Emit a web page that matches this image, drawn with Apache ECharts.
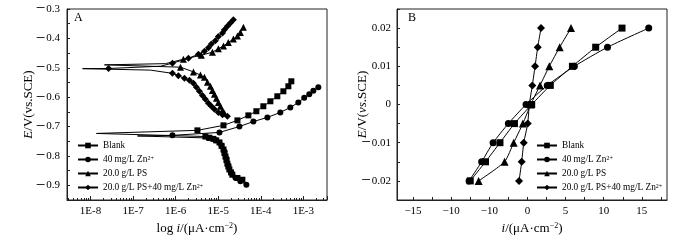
<!DOCTYPE html>
<html><head><meta charset="utf-8">
<script src="https://cdn.jsdelivr.net/npm/echarts@6/dist/echarts.min.js"></script>
<style>html,body{margin:0;padding:0;background:#fff}#c{width:700px;height:240px}</style>
</head><body><div id="c"></div><script>
// ---------- data ----------
const seriesNames = ['Blank', '40 mg/L Zn²⁺', '20.0 g/L PS', '20.0 g/L PS+40 mg/L Zn²⁺'];
const seriesSymbols = ['rect', 'circle', 'triangle', 'diamond'];

// Panel A : Tafel curves, current density i (log) and potential E
const blankI = [3.70e-5, 2.83e-5, 2.15e-5, 2.0e-5, 1.83e-5, 1.73e-5, 1.64e-5, 1.56e-5, 1.48e-5, 1.40e-5, 1.33e-5, 1.2e-5, 1.07e-5, 9.0e-6, 7.7e-6, 6.2e-6, 5.0e-6, 1.38e-8, 3.25e-6, 1.33e-5, 2.83e-5, 5.12e-5, 7.88e-5, 1.15e-4, 1.68e-4, 2.45e-4, 3.40e-4, 4.45e-4, 5.23e-4];
const blankE = [-0.881, -0.875, -0.864, -0.856, -0.846, -0.836, -0.826, -0.814, -0.802, -0.790, -0.778, -0.766, -0.754, -0.747, -0.742, -0.738, -0.734, -0.7235, -0.713, -0.696, -0.679, -0.662, -0.648, -0.631, -0.614, -0.597, -0.580, -0.563, -0.546];
const blankUnmarked = [17];

const znI = [4.59e-5, 3.32e-5, 2.54e-5, 2.04e-5, 1.73e-5, 1.56e-5, 1.40e-5, 1.19e-5, 8.6e-6, 5.9e-6, 1.27e-7, 8.4e-7, 1.07e-5, 3.15e-5, 6.7e-5, 1.43e-4, 2.88e-4, 4.95e-4, 7.63e-4, 1.05e-3, 1.38e-3, 1.72e-3, 2.25e-3];
const znE = [-0.898, -0.886, -0.874, -0.857, -0.833, -0.809, -0.785, -0.764, -0.747, -0.739, -0.732, -0.730, -0.720, -0.700, -0.683, -0.669, -0.652, -0.635, -0.618, -0.602, -0.590, -0.578, -0.566];
const znUnmarked = [10];

const psI = [1.40e-5, 1.26e-5, 1.13e-5, 1.01e-5, 9.08e-6, 8.15e-6, 7.31e-6, 6.56e-6, 5.58e-6, 4.75e-6, 3.82e-6, 2.62e-6, 1.30e-6, 2.13e-8, 5.77e-7, 1.52e-6, 4.03e-6, 7.31e-6, 1.01e-5, 1.33e-5, 1.73e-5, 2.27e-5, 2.83e-5, 3.32e-5, 3.91e-5];
const psE = [-0.655, -0.645, -0.631, -0.618, -0.604, -0.590, -0.577, -0.563, -0.549, -0.532, -0.525, -0.514, -0.498, -0.490, -0.486, -0.471, -0.457, -0.447, -0.435, -0.426, -0.414, -0.4025, -0.392, -0.380, -0.3625];
const psUnmarked = [13, 14];

const psznI = [1.64e-5, 1.26e-5, 1.01e-5, 8.15e-6, 6.92e-6, 5.89e-6, 5.0e-6, 4.26e-6, 3.62e-6, 3.08e-6, 2.62e-6, 2.11e-6, 1.61e-6, 1.16e-6, 8.4e-7, 2.56e-7, 6.5e-9, 2.65e-8, 4.4e-7, 8.4e-7, 2.0e-6, 3.43e-6, 4.75e-6, 5.89e-6, 6.92e-6, 8.59e-6, 1.01e-5, 1.26e-5, 1.40e-5, 1.64e-5, 1.93e-5, 2.27e-5];
const psznE = [-0.665, -0.660, -0.652, -0.6415, -0.631, -0.621, -0.607, -0.594, -0.580, -0.566, -0.553, -0.5425, -0.536, -0.527, -0.519, -0.508, -0.503, -0.5025, -0.4947, -0.4844, -0.468, -0.4537, -0.4434, -0.4315, -0.4195, -0.4083, -0.3932, -0.382, -0.3707, -0.3591, -0.3478, -0.3365];
const psznUnmarked = [15, 16, 18];

// Panel B : linear polarization, potential E and current density i
const bE = [-0.02, -0.015, -0.01, -0.005, 0, 0.005, 0.01, 0.015, 0.02];
const blankB = [-7.5, -5.5, -3.6, -1.7, 0.56, 3.0, 5.9, 8.95, 12.4];
const znB = [-7.65, -6.0, -4.5, -2.5, -0.18, 2.6, 6.15, 10.5, 15.9];
const psB = [-6.4, -3.0, -1.8, -0.6, 0.43, 1.65, 2.87, 4.23, 5.71];
const psznB = [-1.1, -0.75, -0.48, 0.04, 0.25, 0.64, 1.0, 1.35, 1.78];

// tick labels
const aXMajor = [1e-8, 1e-7, 1e-6, 1e-5, 1e-4, 1e-3];
const aXLabels = ['1E-8', '1E-7', '1E-6', '1E-5', '1E-4', '1E-3'];
const bXLabelVals = [-15, -10, -5, 0, 5, 10, 15];
const bXLabels = ['\u221215', '\u221210', '\u221210', '0', '5', '10', '15'];
const bXTickVals = [-15, -12.5, -10, -7.5, -5, -2.5, 0, 2.5, 5, 7.5, 10, 12.5, 15, 17.5];

// ---------- chart ----------
const FONT = '"Liberation Serif","DejaVu Serif",serif';
const MINUS = '\u2212';
const fmtSigned = (v, d) => (Math.abs(v) < 1e-12 ? '0' : (v < 0 ? '{m|' + MINUS + '}' : '') + Math.abs(v).toFixed(d));

const A_MIN = 2.8e-9, A_MAX = 3.6e-3;
// minor log ticks drawn on an overlay axis that works in decades
const aXMinorLog = [];
for (let k = -9; k <= -3; k++) for (let m = 2; m <= 9; m++) aXMinorLog.push(k + Math.log10(m));

const richAxisName = {
  i: {fontStyle: 'italic', fontFamily: FONT, fontSize: 13, color: '#000'},
  n: {fontFamily: FONT, fontSize: 13, color: '#000'},
  s: {fontFamily: FONT, fontSize: 8, color: '#000', verticalAlign: 'top', padding: [0, 0, 5, 0]}
};
const richTick = {m: {fontFamily: FONT, fontSize: 17, color: '#000', padding: [0, 1, 0, 0]}};

function tafelData(I, E, unmarked) {
  return I.map((v, k) => unmarked.includes(k) ? {value: [v, E[k]], symbol: 'none'} : [v, E[k]]);
}

const tafelSets = [[blankI, blankE, blankUnmarked], [znI, znE, znUnmarked], [psI, psE, psUnmarked], [psznI, psznE, psznUnmarked]];
const linSets = [blankB, znB, psB, psznB];
const symSizes = [6, 6, 7, 7];

const series = [];
tafelSets.forEach((s, k) => {
  series.push({
    name: seriesNames[k], type: 'line', xAxisIndex: 0, yAxisIndex: 0,
    data: tafelData(s[0], s[1], s[2]),
    symbol: seriesSymbols[k], symbolSize: symSizes[k], showAllSymbol: true,
    lineStyle: {color: '#000', width: 1}, itemStyle: {color: '#000'},
    animation: false, z: 3
  });
});
linSets.forEach((arr, k) => {
  series.push({
    name: seriesNames[k], type: 'line', xAxisIndex: 2, yAxisIndex: 1,
    data: arr.map((v, j) => [v, bE[j]]),
    symbol: seriesSymbols[k], symbolSize: symSizes[k] + 1, smooth: 0.2,
    lineStyle: {color: '#000', width: 1}, itemStyle: {color: '#000'},
    animation: false, z: 3
  });
});

const tickLabelStyle = {fontFamily: FONT, fontSize: 11, color: '#000'};
const legendCommon = {
  orient: 'vertical', itemWidth: 20, itemHeight: 7, itemGap: 5,
  textStyle: {fontFamily: FONT, fontSize: 9.3, color: '#000',
    rich: {sup: {fontFamily: FONT, fontSize: 6, color: '#000', verticalAlign: 'top'}}},
  formatter: n => n.replace('²⁺', '{sup|2+}'),
  data: seriesNames, selectedMode: false, padding: 0
};
const axLine = {show: true, onZero: false, lineStyle: {color: '#222'}};

const option = {
  backgroundColor: '#fff',
  animation: false,
  grid: [
    {left: 67, top: 9, width: 260, height: 192, show: true, borderColor: '#222', borderWidth: 1, backgroundColor: 'transparent'},
    {left: 397, top: 9, width: 270, height: 192, show: true, borderColor: '#222', borderWidth: 1, backgroundColor: 'transparent'}
  ],
  legend: [
    Object.assign({left: 77, top: 141}, legendCommon),
    Object.assign({left: 536, top: 141}, legendCommon)
  ],
  xAxis: [
    {gridIndex: 0, type: 'log', logBase: 10, min: A_MIN, max: A_MAX, position: 'bottom',
      axisLine: axLine,
      axisTick: {inside: true, length: 4, lineStyle: {color: '#222'},
        interval: (idx, v) => aXMajor.some(t => Math.abs(t - v) / t < 1e-6)},
      axisLabel: {margin: 6, ...tickLabelStyle,
        formatter: v => { const k = aXMajor.findIndex(t => Math.abs(t - v) / t < 1e-6); return k >= 0 ? aXLabels[k] : ''; }},
      splitLine: {show: false},
      name: '{n|log }{i|i}{n|/(μA·cm}{s|' + MINUS + '2}{n|)}', nameLocation: 'middle', nameGap: 22, nameMoveOverlap: false,
      nameTextStyle: {rich: richAxisName}},
    {gridIndex: 0, type: 'value', min: Math.log10(A_MIN), max: Math.log10(A_MAX), position: 'bottom', offset: 0,
      axisLine: {show: false, onZero: false},
      axisTick: {show: true, inside: true, length: 2, customValues: aXMinorLog, lineStyle: {color: '#222'}},
      axisLabel: {show: false}, splitLine: {show: false}},
    {gridIndex: 1, type: 'value', min: -17.1, max: 18.3,
      axisLine: axLine,
      axisTick: {inside: true, length: 3, customValues: bXTickVals, lineStyle: {color: '#222'}},
      axisLabel: {customValues: bXLabelVals, margin: 6, ...tickLabelStyle,
        formatter: v => { const k = bXLabelVals.indexOf(Math.round(v * 10) / 10); return k >= 0 ? bXLabels[k] : ''; }},
      splitLine: {show: false},
      name: '{i|i}{n|/(μA·cm}{s|' + MINUS + '2}{n|)}', nameLocation: 'middle', nameGap: 22, nameMoveOverlap: false,
      nameTextStyle: {rich: richAxisName}}
  ],
  yAxis: [
    {gridIndex: 0, type: 'value', min: -0.95, max: -0.3, interval: 0.05,
      axisLine: axLine,
      axisTick: {inside: true, length: 3, lineStyle: {color: '#222'}},
      axisLabel: {margin: 7, ...tickLabelStyle, rich: richTick,
        formatter: v => { const k = Math.round(v * 100); return k % 10 === 0 ? fmtSigned(k / 100, 1) : ''; }},
      splitLine: {show: false},
      name: '{i|E}{n|/V(vs.SCE)}', nameLocation: 'middle', nameGap: 32, nameMoveOverlap: false,
      nameTextStyle: {rich: richAxisName}},
    {gridIndex: 1, type: 'value', min: -0.025, max: 0.025, interval: 0.005,
      axisLine: axLine,
      axisTick: {inside: true, length: 3, lineStyle: {color: '#222'}},
      axisLabel: {margin: 6, ...tickLabelStyle, rich: richTick,
        formatter: v => { const k = Math.round(v * 1000); return k % 10 === 0 ? fmtSigned(k / 1000, 2) : ''; }},
      splitLine: {show: false},
      name: '{i|E}{n|/V(}{i|vs}{n|.SCE)}', nameLocation: 'middle', nameGap: 28, nameMoveOverlap: false,
      nameTextStyle: {rich: richAxisName}}
  ],
  graphic: [
    {type: 'text', left: 74, top: 12, style: {text: 'A', font: '12px ' + FONT, fill: '#000'}},
    {type: 'text', left: 408, top: 12, style: {text: 'B', font: '12px ' + FONT, fill: '#000'}}
  ],
  series: series
};
const chart = echarts.init(document.getElementById('c'));
chart.setOption(option);
</script></body></html>
